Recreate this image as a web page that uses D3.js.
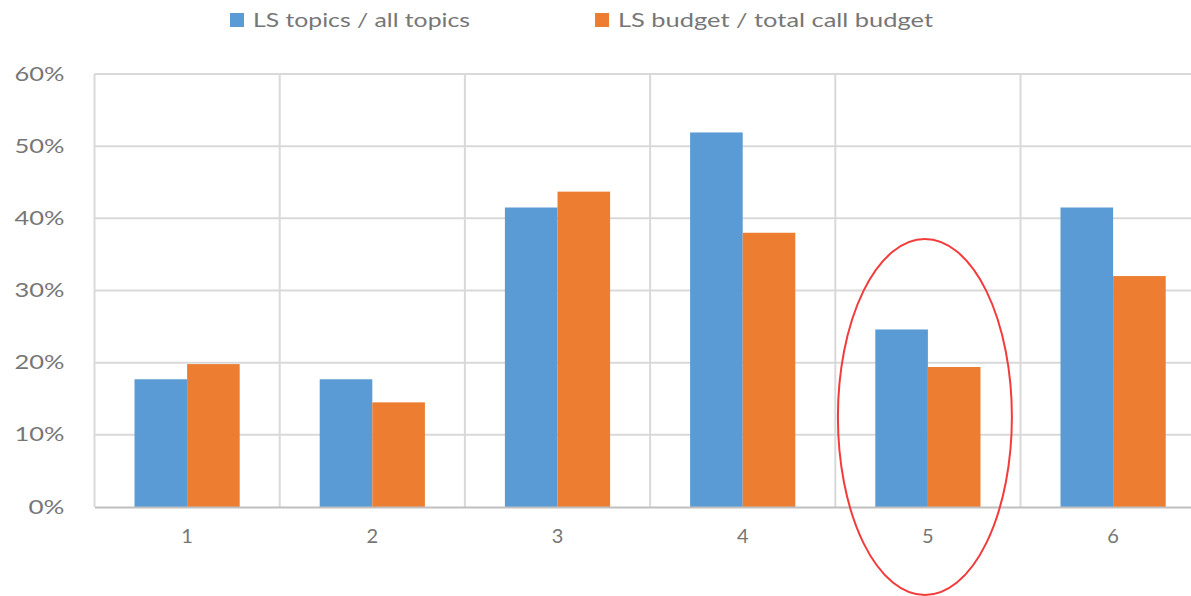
<!DOCTYPE html>
<html>
<head>
<meta charset="utf-8">
<script src="https://cdn.jsdelivr.net/npm/d3@7"></script>
<style>
  body { margin: 0; background: #fff; }
  svg text { font-family: Lato, "Open Sans", sans-serif; fill: #767676; }
</style>
</head>
<body>
<script>
// data
var categories = ["1", "2", "3", "4", "5", "6"];
var seriesNames = ["LS topics / all topics", "LS budget / total call budget"];
var topicShare = [0.177, 0.177, 0.415, 0.519, 0.246, 0.415];
var budgetShare = [0.198, 0.145, 0.437, 0.380, 0.194, 0.320];
var yTicks = [0, 0.1, 0.2, 0.3, 0.4, 0.5, 0.6];
var colors = ["#5b9bd5", "#ed7d31"];
var highlight = "5";

var width = 1191;
var height = 596;

// plot box (right edge falls outside the window, as in the reference)
var plotLeft = 94.5;
var plotRight = plotLeft + 6 * 185.2;
var plotTop = 74;
var plotBottom = 507;

var svg = d3.select("body")
    .append("svg")
    .attr("width", width)
    .attr("height", height);

var xScale = d3.scaleBand()
    .domain(categories)
    .range([plotLeft, plotRight])
    .paddingInner(0.432)
    .paddingOuter(0.216);

var yScale = d3.scaleLinear()
    .domain([0, 0.6])
    .range([plotBottom, plotTop]);

// horizontal gridlines
svg.append("g")
    .selectAll("line")
    .data(yTicks.slice(1))
    .join("line")
    .attr("x1", plotLeft)
    .attr("x2", plotRight)
    .attr("y1", function(d) { return yScale(d); })
    .attr("y2", function(d) { return yScale(d); })
    .style("stroke", "#d9d9d9")
    .style("stroke-width", 2);

// vertical gridlines between categories
var step = xScale.step();
svg.append("g")
    .selectAll("line")
    .data(d3.range(categories.length + 1))
    .join("line")
    .attr("x1", function(d) { return plotLeft + d * step; })
    .attr("x2", function(d) { return plotLeft + d * step; })
    .attr("y1", plotTop)
    .attr("y2", plotBottom)
    .style("stroke", "#d9d9d9")
    .style("stroke-width", 2);

// y axis labels
var yAxis = d3.axisLeft(yScale)
    .tickValues(yTicks)
    .tickFormat(d3.format(".0%"))
    .tickSize(0)
    .tickPadding(30);

var gy = svg.append("g")
    .attr("transform", "translate(" + plotLeft + ",0)")
    .call(yAxis);
gy.select(".domain").remove();
gy.selectAll("text")
    .attr("font-size", "19px")
    .attr("textLength", 50)
    .attr("lengthAdjust", "spacingAndGlyphs")
    .style("font-family", "Lato, sans-serif")
    .attr("fill", "#767676");
gy.selectAll(".tick")
    .filter(function(d) { return d === 0; })
    .select("text")
    .attr("textLength", 36);

// bars
var series = [topicShare, budgetShare];
var barW = xScale.bandwidth() / 2;
series.forEach(function(vals, i) {
  svg.append("g")
      .selectAll("rect")
      .data(vals)
      .join("rect")
      .attr("x", function(d, j) { return xScale(categories[j]) + i * barW; })
      .attr("y", function(d) { return yScale(d); })
      .attr("width", barW)
      .attr("height", function(d) { return plotBottom - yScale(d); })
      .style("fill", colors[i]);
});

// x axis line and labels
var xAxis = d3.axisBottom(xScale)
    .tickSize(0)
    .tickPadding(22);

var gx = svg.append("g")
    .attr("transform", "translate(0," + plotBottom + ")")
    .call(xAxis);
gx.select(".domain")
    .style("stroke", "#bfbfbf")
    .style("stroke-width", 2);
gx.selectAll("text")
    .attr("font-size", "20px")
    .style("font-family", "Lato, sans-serif")
    .attr("fill", "#767676");

// legend
var legendX = [230, 595];
var legendLen = [217, 315];
var legend = svg.append("g");
seriesNames.forEach(function(name, i) {
  legend.append("rect")
      .attr("x", legendX[i])
      .attr("y", 13)
      .attr("width", 14)
      .attr("height", 14)
      .style("fill", colors[i]);
  legend.append("text")
      .attr("x", legendX[i] + 23)
      .attr("y", 27)
      .attr("font-size", "20px")
      .attr("textLength", legendLen[i])
      .attr("lengthAdjust", "spacingAndGlyphs")
      .text(name);
});

// red ellipse around the highlighted category
svg.append("ellipse")
    .attr("cx", xScale(highlight) + xScale.bandwidth() / 2 - 3)
    .attr("cy", 417)
    .attr("rx", 87)
    .attr("ry", 178)
    .style("fill", "none")
    .style("stroke", "#f23c3c")
    .style("stroke-width", 2);
</script>
</body>
</html>
